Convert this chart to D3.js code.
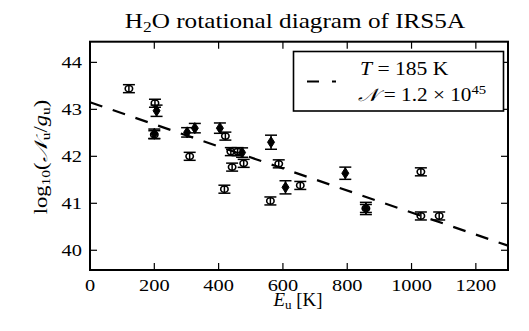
<!DOCTYPE html>
<html><head><meta charset="utf-8">
<script src="https://cdn.jsdelivr.net/npm/d3@7"></script>
<style>
body{margin:0;background:#fff;}
text{font-family:"Liberation Serif","Times New Roman",serif;fill:#000;}
</style></head>
<body><svg id="c" width="529" height="331"></svg>
<script>
// ---- data ----
const circleE   = [121, 202, 200, 310, 418, 421, 438, 459, 442, 478, 587, 561, 654, 858, 1029, 1029, 1086];
const circleLog = [43.44, 43.13, 42.46, 42.00, 41.30, 42.43, 42.10, 42.10, 41.77, 41.85, 41.84, 41.05, 41.38, 40.89, 41.67, 40.73, 40.73];
const circleErr = [0.085,0.085,0.085,0.085,0.085,0.085,0.085,0.085,0.085,0.085,0.085,0.085,0.085,0.085,0.085,0.085,0.085];
const diamondE   = [200, 207, 302, 326, 404, 473, 563, 608, 794, 858];
const diamondLog = [42.48, 42.97, 42.51, 42.60, 42.60, 42.08, 42.30, 41.34, 41.64, 40.89];
const diamondErr = [0.10, 0.12, 0.10, 0.10, 0.11, 0.10, 0.15, 0.14, 0.13, 0.13];
const fitT = 185;           // K
const fitIntercept = 43.15; // log10 at E=0
const xTicks = [0, 200, 400, 600, 800, 1000, 1200];
const yTicks = [40, 41, 42, 43, 44];

const svg = d3.select("#c");
const L = 90, R = 508, T = 41.7, B = 270;
const SX = 1.2; // horizontal glyph stretch seen in the reference
const x = d3.scaleLinear().domain([0, 1300]).range([L, R]);
const y = d3.scaleLinear().domain([39.58, 44.44]).range([B, T]);

function stext(px, py, size, anchor, sx, rot) {
  const g = svg.append("g").attr("transform", `translate(${px},${py})${rot ? " rotate(" + rot + ")" : ""} scale(${sx},1)`);
  return g.append("text").attr("x", 0).attr("y", 0).attr("font-size", size).attr("text-anchor", anchor);
}

// fit line
const fitE = [0, 1300];
svg.append("path")
  .attr("d", d3.line().x(d => x(d)).y(d => y(fitIntercept - d / (fitT * Math.LN10)))(fitE))
  .attr("fill", "none").attr("stroke", "#000").attr("stroke-width", 2.2)
  .attr("stroke-dasharray", "13,11");

// error bars helper
function errbars(E, V, Er, cw) {
  const g = svg.append("g").attr("stroke", "#000").attr("stroke-width", 1.5);
  E.forEach((e, i) => {
    const xi = x(e), y1 = y(V[i] - Er[i]), y2 = y(V[i] + Er[i]);
    g.append("line").attr("x1", xi).attr("x2", xi).attr("y1", y1).attr("y2", y2);
    g.append("line").attr("x1", xi - cw).attr("x2", xi + cw).attr("y1", y1).attr("y2", y1);
    g.append("line").attr("x1", xi - cw).attr("x2", xi + cw).attr("y1", y2).attr("y2", y2);
  });
}
errbars(circleE, circleLog, circleErr, 6);
errbars(diamondE, diamondLog, diamondErr, 6);

// circles
svg.append("g").selectAll("ellipse").data(circleE).join("ellipse")
  .attr("cx", d => x(d)).attr("cy", (d, i) => y(circleLog[i]))
  .attr("rx", 3.7).attr("ry", 3.2)
  .attr("fill", "none").attr("stroke", "#000").attr("stroke-width", 1.6);

// diamonds
svg.append("g").selectAll("path").data(diamondE).join("path")
  .attr("transform", (d, i) => `translate(${x(d)},${y(diamondLog[i])})`)
  .attr("d", "M0,-5.5L3.5,0L0,5.5L-3.5,0Z")
  .attr("fill", "#000").attr("stroke", "#000").attr("stroke-width", 1);

// ticks (inward, all sides)
const tk = svg.append("g").attr("stroke", "#000").attr("stroke-width", 1.2);
xTicks.forEach(v => {
  tk.append("line").attr("x1", x(v)).attr("x2", x(v)).attr("y1", B).attr("y2", B - 7);
  tk.append("line").attr("x1", x(v)).attr("x2", x(v)).attr("y1", T).attr("y2", T + 7);
});
yTicks.forEach(v => {
  tk.append("line").attr("x1", L).attr("x2", L + 7).attr("y1", y(v)).attr("y2", y(v));
  tk.append("line").attr("x1", R).attr("x2", R - 7).attr("y1", y(v)).attr("y2", y(v));
});

// frame
svg.append("rect").attr("x", L).attr("y", T).attr("width", R - L).attr("height", B - T)
  .attr("fill", "none").attr("stroke", "#000").attr("stroke-width", 2);

// tick labels
xTicks.forEach(v => stext(x(v), 291, 17, "middle", SX).text(v));
yTicks.forEach(v => stext(82, y(v) + 6, 17, "end", SX).text(v));

// title
const tt = stext(295, 28, 21, "middle", SX);
tt.append("tspan").text("H");
tt.append("tspan").attr("font-size", 14.5).attr("dy", 4).text("2");
tt.append("tspan").attr("dy", -4).text("O rotational diagram of IRS5A");

// x label
const xl = stext(298, 306, 18, "middle", 1.05);
xl.append("tspan").attr("font-style", "italic").text("E");
xl.append("tspan").attr("font-size", 12.5).attr("dy", 3).text("u");
xl.append("tspan").attr("dy", -3).text(" [K]");

// y label
const yl = stext(47, 157, 18, "middle", 1.25, -90);
yl.append("tspan").text("log");
yl.append("tspan").attr("font-size", 12.5).attr("dy", 3).text("10");
yl.append("tspan").attr("dy", -3).text("(");
yl.append("tspan").attr("font-style", "italic").text("𝒩");
yl.append("tspan").attr("font-size", 12.5).attr("dy", 3).text("u");
yl.append("tspan").attr("dy", -3).text("/");
yl.append("tspan").attr("font-style", "italic").text("g");
yl.append("tspan").attr("font-size", 12.5).attr("dy", 3).text("u");
yl.append("tspan").attr("dy", -3).text(")");

// legend
svg.append("rect").attr("x", 293.5).attr("y", 51.5).attr("width", 210).attr("height", 59.5)
  .attr("fill", "#fff").attr("stroke", "#000").attr("stroke-width", 1.6);
svg.append("line").attr("x1", 307).attr("x2", 336).attr("y1", 81.5).attr("y2", 81.5)
  .attr("stroke", "#000").attr("stroke-width", 2.2).attr("stroke-dasharray", "12,13");
const l1 = stext(360, 75, 18, "start", 1.2);
l1.append("tspan").attr("font-style", "italic").text("T");
l1.append("tspan").text(" = 185 K");
const l2 = stext(358, 101, 18, "start", 1.18);
l2.append("tspan").attr("font-style", "italic").text("𝒩");
l2.append("tspan").text(" = 1.2 × 10");
l2.append("tspan").attr("font-size", 12.5).attr("dy", -7).text("45");
</script></body></html>
